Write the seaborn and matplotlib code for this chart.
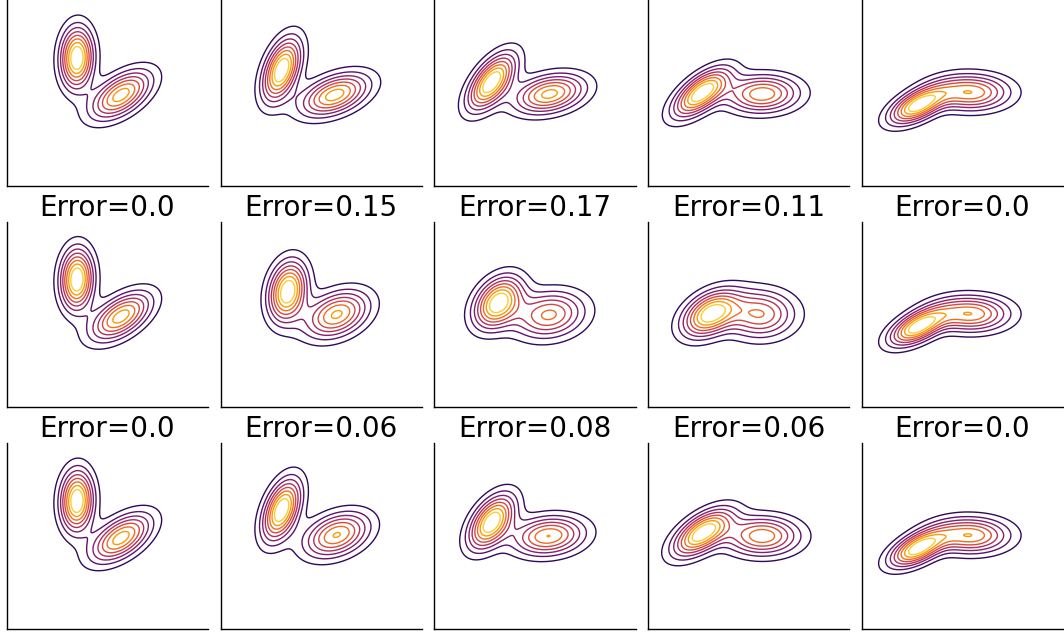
import numpy as np
import matplotlib
matplotlib.use("Agg")
import matplotlib.pyplot as plt
import seaborn as sns

# ---- data: two-component Gaussian mixtures, one per panel (rows x cols) ----
ERRORS = [None,
          [0.0, 0.15, 0.17, 0.11, 0.0],
          [0.0, 0.06, 0.08, 0.06, 0.0]]

# weight of component B (component A gets 1 - W_B)
W_B = [[0.50, 0.50, 0.50, 0.50, 0.55],
       [0.50, 0.50, 0.50, 0.50, 0.55],
       [0.50, 0.50, 0.50, 0.50, 0.55]]

A_X = [[3.48, 3.03, 2.84, 2.64, 2.78],
       [3.48, 3.33, 3.16, 3.07, 2.78],
       [3.48, 3.03, 2.84, 2.69, 2.78]]
A_Y = [[6.40, 5.80, 5.20, 4.65, 4.03],
       [6.40, 5.80, 5.25, 4.67, 4.03],
       [6.40, 5.95, 5.35, 4.80, 4.03]]
A_SX = [[0.535, 0.62, 0.77, 0.91, 0.92],
        [0.535, 0.62, 0.78, 0.90, 0.92],
        [0.535, 0.62, 0.74, 0.95, 0.92]]
A_SY = [[1.00, 1.02, 0.91, 0.79, 0.61],
        [1.00, 0.975, 0.84, 0.75, 0.61],
        [1.00, 1.00, 0.88, 0.77, 0.61]]
A_RHO = [[0.05, 0.45, 0.60, 0.65, 0.58],
         [0.05, 0.20, 0.35, 0.40, 0.58],
         [0.05, 0.45, 0.50, 0.60, 0.58]]

B_X = [[5.67, 5.67, 5.72, 5.67, 5.42],
       [5.67, 5.77, 5.70, 5.55, 5.42],
       [5.67, 5.77, 5.67, 5.67, 5.42]]
B_Y = [[4.55, 4.55, 4.60, 4.60, 4.68],
       [4.55, 4.65, 4.63, 4.67, 4.68],
       [4.55, 4.70, 4.65, 4.65, 4.68]]
B_SX = [[0.99, 1.12, 1.16, 1.20, 1.25],
        [0.99, 1.05, 1.17, 1.15, 1.25],
        [0.99, 1.06, 1.18, 1.22, 1.25]]
B_SY = [[0.80, 0.70, 0.64, 0.61, 0.58],
        [0.80, 0.78, 0.77, 0.78, 0.58],
        [0.80, 0.74, 0.64, 0.64, 0.58]]
B_RHO = [[0.55, 0.45, 0.30, 0.05, 0.00],
         [0.55, 0.34, 0.15, 0.00, 0.00],
         [0.55, 0.35, 0.15, 0.00, 0.00]]

LEVEL_FRACTIONS = np.linspace(0.10, 0.85, 8)
XLIM = (0.0, 10.0)
YLIM = (0.0, 9.3)


def gauss2d(X, Y, mx, my, sx, sy, rho):
    dx = (X - mx) / sx
    dy = (Y - my) / sy
    q = (dx * dx - 2 * rho * dx * dy + dy * dy) / (1 - rho ** 2)
    return np.exp(-0.5 * q) / (2 * np.pi * sx * sy * np.sqrt(1 - rho ** 2))


sns.set_theme(style="white", context="notebook")
plt.rcParams["font.family"] = ["DejaVu Sans"]
ring_colors = sns.color_palette("inferno", as_cmap=True)(np.linspace(0.16, 0.88, len(LEVEL_FRACTIONS)))

fig, axes = plt.subplots(3, 5, figsize=(10.64, 6.35), dpi=100)
fig.subplots_adjust(left=7 / 1064, right=1063 / 1064, top=1.0, bottom=6 / 635,
                    wspace=0.0634, hspace=0.191)

gx = np.linspace(XLIM[0], XLIM[1], 400)
gy = np.linspace(YLIM[0], YLIM[1], 400)
X, Y = np.meshgrid(gx, gy)

for r in range(3):
    for c in range(5):
        ax = axes[r, c]
        wb = W_B[r][c]
        Z = ((1 - wb) * gauss2d(X, Y, A_X[r][c], A_Y[r][c], A_SX[r][c], A_SY[r][c], A_RHO[r][c])
             + wb * gauss2d(X, Y, B_X[r][c], B_Y[r][c], B_SX[r][c], B_SY[r][c], B_RHO[r][c]))
        levels = Z.max() * LEVEL_FRACTIONS
        ax.contour(X, Y, Z, levels=levels, colors=ring_colors, linewidths=1.0)
        ax.set_xlim(*XLIM)
        ax.set_ylim(*YLIM)
        ax.set_xticks([])
        ax.set_yticks([])
        sns.despine(ax=ax)
        for sp in ("left", "bottom"):
            ax.spines[sp].set_color("black")
            ax.spines[sp].set_linewidth(1.0)
        if ERRORS[r] is not None:
            ax.set_title(f"Error={ERRORS[r][c]}", fontsize=20, pad=3, color="black")

fig.savefig("out.png", dpi=100)
